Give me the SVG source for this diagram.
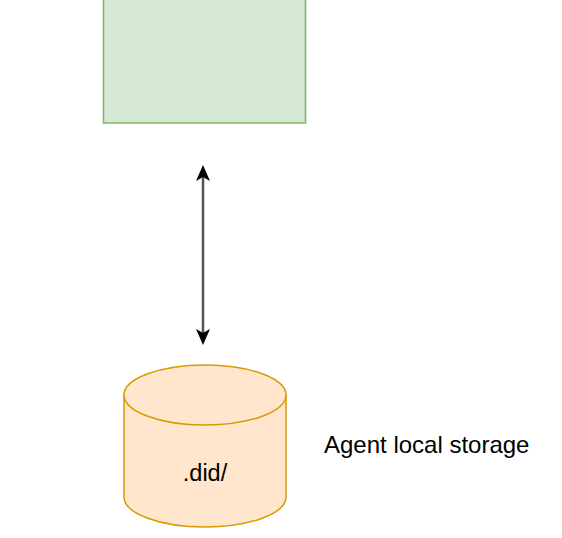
<svg xmlns="http://www.w3.org/2000/svg" width="562" height="538" viewBox="0 0 562 538">
<style>
.lbl{font-family:"Liberation Sans",Arial,sans-serif;fill:#000}
</style>
<rect width="562" height="538" fill="#fff"/>
<g id="box">
<rect x="103.5" y="-10" width="202" height="133" fill="#d5e8d4" stroke="#82b366" stroke-width="1.5"/>
</g>
<g id="storage">
<path d="M124,395 A81,30 0 0 1 286,395 L286,497 A81,30 0 0 1 124,497 Z" fill="#ffe6cc" stroke="#d79b00" stroke-width="1.5"/>
<path d="M124,395 A81,30 0 0 0 286,395" fill="none" stroke="#d79b00" stroke-width="1.5"/>
<text class="lbl" x="205" y="481" font-size="23.5" text-anchor="middle">.did/</text>
</g>
<g id="storage-label">
<text class="lbl" x="324" y="453" font-size="24">Agent local storage</text>
</g>
<g id="connectors">
<line x1="203" y1="170" x2="203" y2="340" stroke="#555" stroke-width="2.5"/>
<path d="M203,165 L210,181 L203,177 L196,181 Z" fill="#000"/>
<path d="M203,345 L210,329 L203,333 L196,329 Z" fill="#000"/>
</g>
</svg>
